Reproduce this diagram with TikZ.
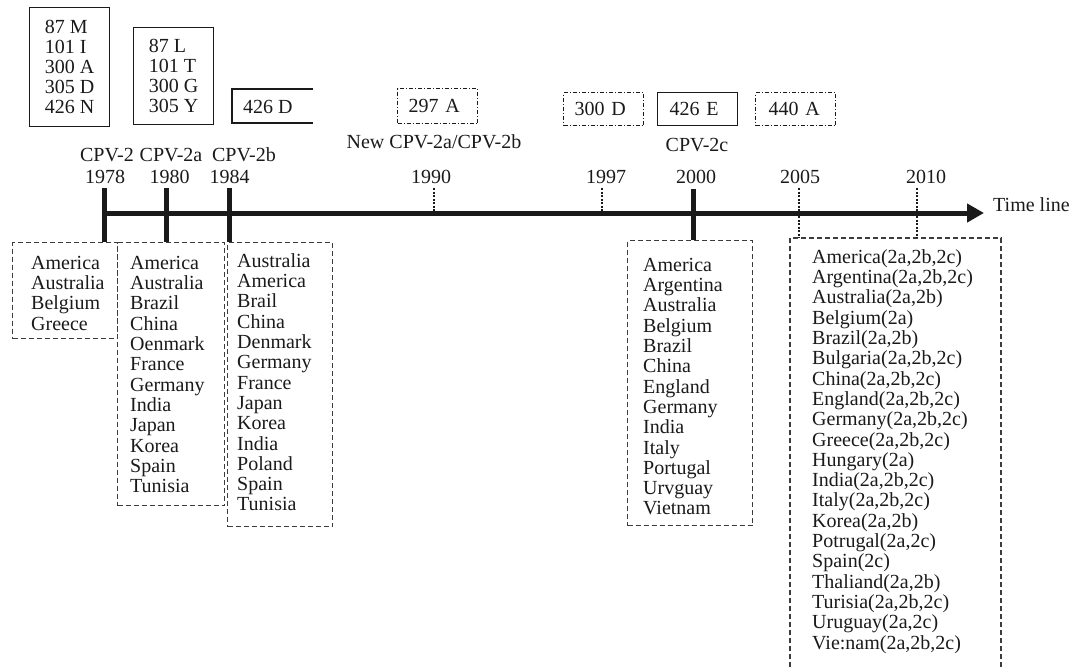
\documentclass[tikz,border=0pt]{standalone}
\usepackage{fontspec}
\setmainfont{Liberation Serif}
\usetikzlibrary{arrows.meta}
\newcommand\myfs{\fontsize{20}{20.3}\selectfont}
\newcommand\myfst{\fontsize{20}{20}\selectfont}
\definecolor{ink}{HTML}{1A1A1A}
\begin{document}
\begin{tikzpicture}[x=1pt,y=-1pt,
  txt/.style={font=\myfs, text=ink, inner sep=0pt},
  listtxt/.style={font=\myfs, text=ink, inner sep=0pt, align=left, anchor=base west},
  sbox/.style={draw=ink, line width=1.2pt, font=\myfst, text=ink, align=left, anchor=north west, inner ysep=0pt},
  ddbox/.style={sbox, dash pattern=on 4pt off 2pt on 1pt off 2pt},
  dbox/.style={draw=ink!85, line width=1.3pt, dash pattern=on 5pt off 3pt},
  thickln/.style={draw=ink, line width=5pt},
  dotln/.style={draw=ink, line width=2.5pt, dash pattern=on 2pt off 1.5pt}
]
\useasboundingbox (0,0) rectangle (1070,669);

% ---------- top mutation boxes ----------
\node[sbox, minimum width=80pt, minimum height=119pt, inner xsep=0pt] (m1) at (29,7)
  {87 M\\101 I\\300 A\\305 D\\426 N};
\node[sbox, minimum width=80pt, minimum height=97pt, inner xsep=0pt] (m2) at (133,27)
  {87 L\\101 T\\300 G\\305 Y};
\node[txt, anchor=west] (m3) at (243,107) {426 D};
\draw[draw=ink, line width=1.2pt] (313,89) -- (232,89) -- (232,123) -- (313,123);
\node[ddbox, minimum width=80pt, minimum height=35pt, text width=58pt, inner xsep=11pt] (m4) at (397,88) {297 A};
\node[ddbox, minimum width=80pt, minimum height=33pt, text width=58pt, inner xsep=11pt] (m5) at (563,92) {300 D};
\node[sbox, minimum width=80pt, minimum height=33pt, text width=56pt, inner xsep=12pt] (m6) at (657,92) {426 E};
\node[ddbox, minimum width=80pt, minimum height=33pt, text width=54pt, inner xsep=13pt] (m7) at (755,92) {440 A};
\node[txt] (lnew) at (434,142) {New CPV-2a/CPV-2b};
\node[txt] (l2c) at (697,145) {CPV-2c};

% ---------- strain / year labels ----------
\node[txt] (s1) at (107,155) {CPV-2};
\node[txt] (s2) at (171,155) {CPV-2a};
\node[txt] (s3) at (244,155) {CPV-2b};
\node[txt] (y1978) at (105,177) {1978};
\node[txt] (y1980) at (169.5,177) {1980};
\node[txt] (y1984) at (229.5,177) {1984};
\node[txt] (y1990) at (431,177) {1990};
\node[txt] (y1997) at (606,177) {1997};
\node[txt] (y2000) at (696,177) {2000};
\node[txt] (y2005) at (800,177) {2005};
\node[txt] (y2010) at (926,177) {2010};
\node[txt, anchor=west] (tl) at (993,205) {Time line};

% ---------- country boxes ----------
\node[dbox, anchor=north west, minimum width=105pt, minimum height=96pt, inner sep=0pt] (bA) at (12,242) {};
\node[dbox, anchor=north west, minimum width=107pt, minimum height=263pt, inner sep=0pt] (bB) at (117,242) {};
\node[dbox, anchor=north west, minimum width=105pt, minimum height=284pt, inner sep=0pt] (bC) at (227,242) {};
\node[dbox, anchor=north west, minimum width=125pt, minimum height=285pt, inner sep=0pt] (bD) at (627,240) {};
\coordinate (bE) at (790,238);
\draw[dbox] (790,675) -- (bE) -- (1001,238) -- (1001,675);

% (base anchor of a multi-line node = baseline of its last line)
\node[listtxt] (cA) at (31,330.2) {America\\Australia\\Belgium\\Greece};
\node[listtxt] (cB) at (130,492.6) {America\\Australia\\Brazil\\China\\Oenmark\\France\\Germany\\India\\Japan\\Korea\\Spain\\Tunisia};
\node[listtxt] (cC) at (237,510.9) {Australia\\America\\Brail\\China\\Denmark\\Germany\\France\\Japan\\Korea\\India\\Poland\\Spain\\Tunisia};
\node[listtxt] (cD) at (643,514.9) {America\\Argentina\\Australia\\Belgium\\Brazil\\China\\England\\Germany\\India\\Italy\\Portugal\\Urvguay\\Vietnam};
\node[listtxt] (cE) at (812,649.0) {America(2a,2b,2c)\\Argentina(2a,2b,2c)\\Australia(2a,2b)\\Belgium(2a)\\Brazil(2a,2b)\\Bulgaria(2a,2b,2c)\\China(2a,2b,2c)\\England(2a,2b,2c)\\Germany(2a,2b,2c)\\Greece(2a,2b,2c)\\Hungary(2a)\\India(2a,2b,2c)\\Italy(2a,2b,2c)\\Korea(2a,2b)\\Potrugal(2a,2c)\\Spain(2c)\\Thaliand(2a,2b)\\Turisia(2a,2b,2c)\\Uruguay(2a,2c)\\Vie:nam(2a,2b,2c)};

% ---------- time line ----------
\coordinate (t0) at (104,213);
\coordinate (tend) at (984,213);
\draw[thickln, -{Triangle[length=17pt,width=18pt]}] (t0) -- (tend);

\coordinate (k1978) at (104,188);
\coordinate (k1980) at (166,188);
\coordinate (k1984) at (229,188);
\coordinate (k1990) at (434,188);
\coordinate (k1997) at (602,188);
\coordinate (k2000) at (693,189);
\coordinate (k2005) at (799,188);
\coordinate (k2010) at (917,188);

\draw[thickln] (k1978) -- (k1978 |- bA.north);
\draw[thickln] (k1980) -- (k1980 |- bB.north);
\draw[thickln] (k1984) -- (k1984 |- bC.north);
\draw[thickln] (k2000) -- (k2000 |- bD.north);
\draw[dotln] (k1990) -- (k1990 |- t0);
\draw[dotln] (k1997) -- (k1997 |- t0);
\draw[dotln] (k2005) -- (k2005 |- bE);
\draw[dotln] (k2010) -- (k2010 |- bE);
\end{tikzpicture}
\end{document}
